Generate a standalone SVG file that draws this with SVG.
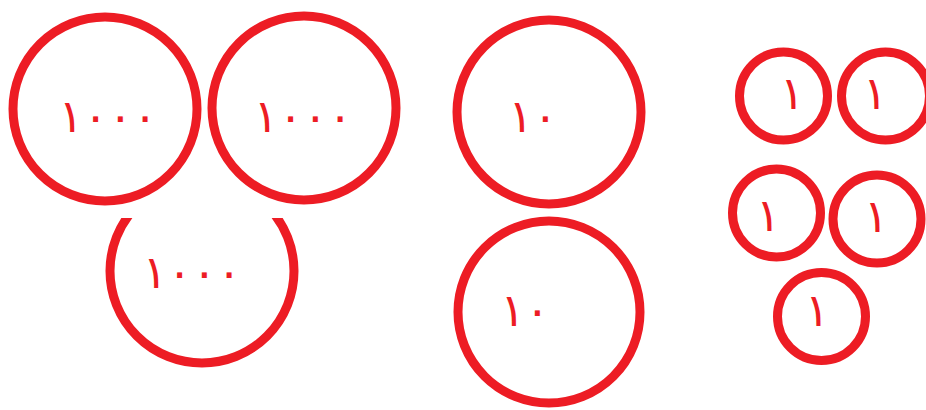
<svg xmlns="http://www.w3.org/2000/svg" width="926" height="410" viewBox="0 0 926 410">
<style>
.c{fill:none;stroke:#ED1C24;stroke-width:9}
.t{fill:#ED1C24;font-family:"DejaVu Sans",sans-serif;font-size:46px;text-anchor:middle;letter-spacing:-4px}
</style>
<defs>
<clipPath id="cut"><rect x="0" y="218" width="926" height="192"/></clipPath>
</defs>
<rect width="926" height="410" fill="#fff"/>
<g id="n1000a"><circle class="c" cx="105" cy="109" r="92"/><text class="t" x="108" y="132">١٠٠٠</text></g>
<g id="n1000b"><circle class="c" cx="304" cy="108" r="92"/><text class="t" x="303" y="132">١٠٠٠</text></g>
<g id="n1000c"><circle class="c" cx="202" cy="271" r="92" clip-path="url(#cut)"/><text class="t" x="192" y="288">١٠٠٠</text></g>
<g id="n10a"><circle class="c" cx="549" cy="112" r="92"/><text class="t" x="533" y="132">١٠</text></g>
<g id="n10b"><circle class="c" cx="549" cy="312" r="91"/><text class="t" x="525" y="326">١٠</text></g>
<g id="n1a"><circle class="c" cx="783.5" cy="96" r="44"/><text class="t" x="792" y="109">١</text></g>
<g id="n1b"><circle class="c" cx="885.5" cy="96" r="44"/><text class="t" x="875" y="109">١</text></g>
<g id="n1c"><circle class="c" cx="776.5" cy="213" r="44"/><text class="t" x="768" y="231">١</text></g>
<g id="n1d"><circle class="c" cx="877" cy="219" r="44"/><text class="t" x="876" y="232">١</text></g>
<g id="n1e"><circle class="c" cx="821.5" cy="316.5" r="44"/><text class="t" x="817" y="326">١</text></g>
<g id="connectors"></g>
</svg>
